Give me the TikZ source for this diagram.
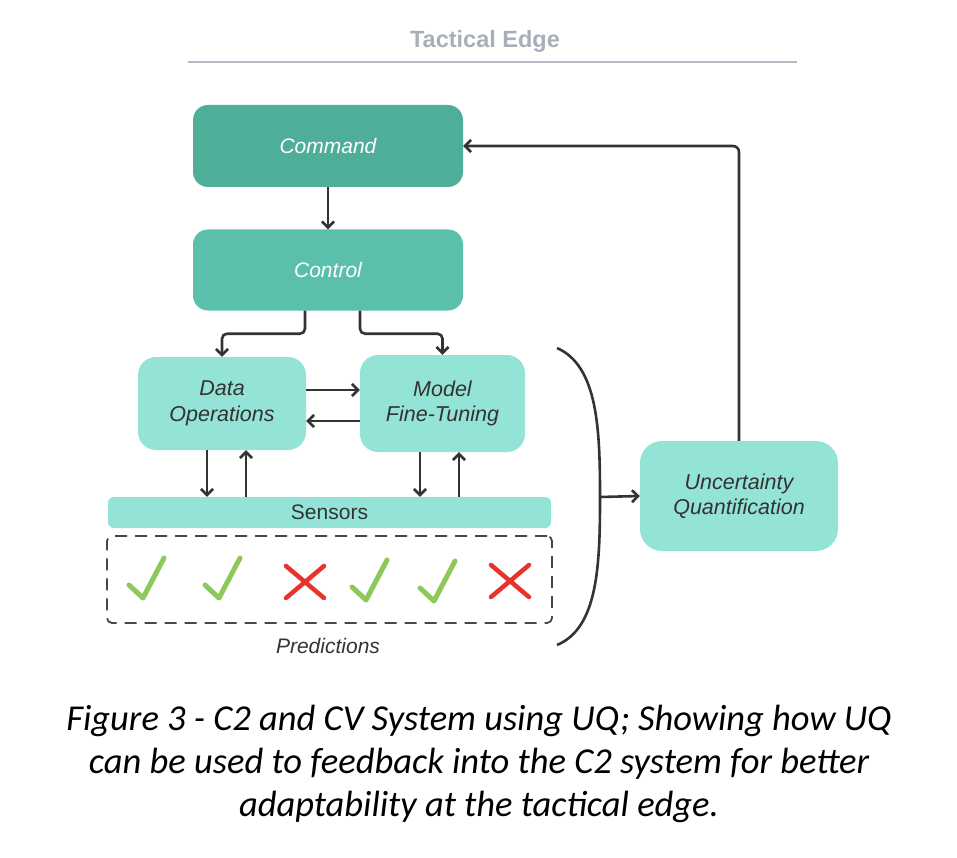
\documentclass[tikz,border=0pt]{standalone}
\usepackage{fontspec}
\setmainfont{Liberation Sans}
\newfontfamily\capfont{Carlito}
\usetikzlibrary{arrows.meta}

\definecolor{cmdgreen}{HTML}{4FAE9A}
\definecolor{ctrlgreen}{HTML}{5AC0AC}
\definecolor{lightteal}{HTML}{93E3D7}
\definecolor{linegray}{HTML}{333333}
\definecolor{titlegray}{HTML}{A9AEB8}
\definecolor{rulegray}{HTML}{B4BAC6}
\definecolor{okgreen}{HTML}{8CC85A}
\definecolor{badred}{HTML}{E8332A}

\begin{document}
\begin{tikzpicture}[
    x=1pt, y=-1pt,
    % box styles
    darkbox/.style={rounded corners=15pt, text=white, font=\fontsize{21}{25}\selectfont\itshape, align=center, inner sep=0pt},
    lightbox/.style={fill=lightteal, rounded corners=18pt, text=linegray, font=\fontsize{21.5}{25.5}\selectfont\itshape, align=center, inner sep=0pt},
    conn/.style={draw=linegray, line width=2.6pt, -{Straight Barb[length=6pt, width=12pt, line width=2.6pt]}},
    tickmark/.style={draw=okgreen, line width=5pt, line cap=round, line join=round},
    crossmark/.style={draw=badred, line width=4.5pt, line cap=round}
]
  \useasboundingbox (0,0) rectangle (957,858);

  % Title and rule
  \node[text=titlegray, font=\fontsize{23.5}{28}\selectfont\bfseries] (title) at (485,41) {Tactical Edge};
  \draw[rulegray, line width=2pt] (188,62) -- (797,62);

  % C2 boxes
  \node[darkbox, fill=cmdgreen, minimum width=270, minimum height=82] (cmd) at (328,146) {Command};
  \node[darkbox, fill=ctrlgreen, minimum width=270, minimum height=81] (ctrl) at (328,270) {Control};

  % CV boxes
  \node[lightbox, minimum width=168, minimum height=93] (data) at (222,403.5) {Data\\Operations};
  \node[lightbox, minimum width=165, minimum height=97] (model) at (442.5,403.5) {Model\\Fine-Tuning};
  \node[lightbox, rounded corners=6pt, font=\fontsize{21}{25}\selectfont, minimum width=443, minimum height=31] (sensors) at (329.5,512.5) {Sensors};
  \node[lightbox, minimum width=198, minimum height=110, rounded corners=22pt] (uq) at (739,496) {Uncertainty\\Quantification};

  % Predictions
  \node[draw=linegray!90, dashed, dash pattern=on 12pt off 8pt, line width=1.8pt, rounded corners=5pt,
        minimum width=445, minimum height=87, inner sep=0pt] (preds) at (329.5,579.5) {};
  \node[text=linegray, font=\fontsize{21}{25}\selectfont\itshape] (predlabel) at (328,646) {Predictions};
  \foreach \bx/\by in {143/598, 219/598, 366/600, 434/601}
    \draw[tickmark] (\bx-14,\by-13) -- (\bx,\by) -- (\bx+21,\by-40);
  \foreach \cx/\cy in {305/582, 510/581} {
    \draw[crossmark] (\cx-19,\cy-16) -- (\cx+19,\cy+16);
    \draw[crossmark] (\cx-19,\cy+16) -- (\cx+19,\cy-16);
  }

  % Bracket round sensors and predictions
  \coordinate (brace) at (600,497);
  \draw[linegray, line width=2.6pt] (557,348) .. controls (598,366) and (600,430) .. (brace)
        .. controls (600,565) and (598,628) .. (557,645);

  % Connectors
  \draw[conn] (cmd) -- (ctrl);
  \draw[conn, rounded corners=5pt] ([xshift=-23pt]ctrl.south) -- ++(0,23) -| (data.north);
  \draw[conn, rounded corners=5pt] ([xshift=32pt]ctrl.south) -- ++(0,23) -| (model.north);
  \draw[conn] ([yshift=13.5pt]data.east) -- ([yshift=13.5pt]data.east -| model.west);
  \draw[conn] ([yshift=-17.5pt]model.west) -- ([yshift=-17.5pt]model.west -| data.east);
  \draw[conn] ([xshift=-15pt]data.south) -- ([xshift=-15pt]data.south |- sensors.north);
  \draw[conn] ([xshift=24pt]data.south |- sensors.north) -- ([xshift=24pt]data.south);
  \draw[conn] ([xshift=-22.5pt]model.south) -- ([xshift=-22.5pt]model.south |- sensors.north);
  \draw[conn] ([xshift=16.5pt]model.south |- sensors.north) -- ([xshift=16.5pt]model.south);
  \draw[conn] (brace) -- (uq.west);
  \draw[conn, rounded corners=6pt] (uq.north) |- (cmd.east);

  % Caption
  \node[font=\capfont\fontsize{36.5}{43}\selectfont\itshape, align=center] (caption) at (479,764)
    {Figure 3 - C2 and CV System using UQ; Showing how UQ\\can be used to feedback into the C2 system for better\\adaptability at the tactical edge.};
\end{tikzpicture}
\end{document}
